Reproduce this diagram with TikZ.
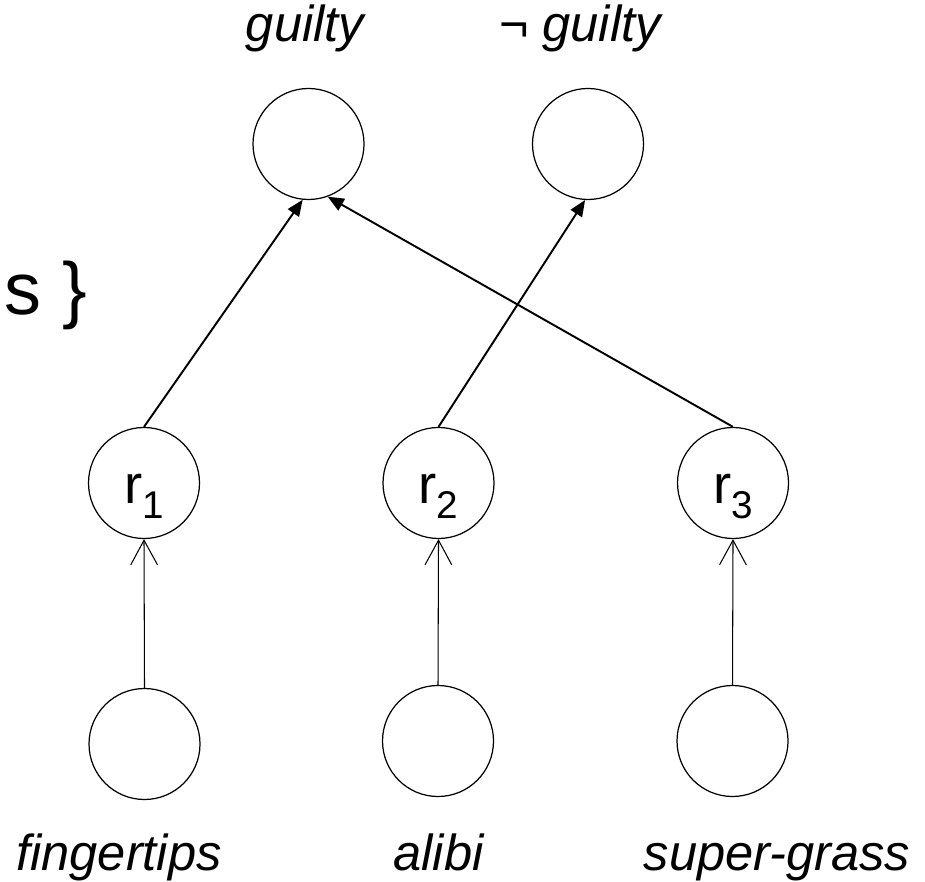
\documentclass[tikz,border=0pt]{standalone}
\usepackage{fontspec}
\setmainfont{Liberation Sans}
\usetikzlibrary{arrows.meta}

% rule label with lowered index
\newcommand{\rlab}[1]{r\raisebox{-4.3pt}{\fontsize{11}{13}\selectfont #1}}

\begin{document}
\begin{tikzpicture}[%
state/.style={draw, circle, line width=0.35pt, minimum size=1.11cm, inner sep=0pt,
  text height=11.4pt, text depth=0pt, font=\fontsize{15.5}{18}\selectfont},
lab/.style={anchor=base, inner sep=0pt, font=\fontsize{14.4}{17}\selectfont\itshape},
infer/.style={line width=0.55pt, -{Triangle[length=4.6pt,width=3.8pt]}},
support/.style={line width=0.3pt, -{Straight Barb[length=7pt,width=7.6pt]}},
]
\useasboundingbox (0,0) rectangle (9.25,8.81);
%% conclusions;
\node[state] (guilty) at (3.085,7.37) {};
\node[state] (notguilty) at (5.88,7.37) {};
\node[lab] (lguilty) at (3.05,8.39) {guilty};
\node[lab] (lnotguilty) at (5.80,8.39) {¬ guilty};
%% rules;
\node[state] (r1) at (1.44,3.98) {\rlab{1}};
\node[state] (r2) at (4.385,3.98) {\rlab{2}};
\node[state] (r3) at (7.33,3.98) {\rlab{3}};
%% premises;
\node[state] (finger) at (1.445,1.37) {};
\node[state] (alibi) at (4.38,1.40) {};
\node[state] (grass) at (7.325,1.40) {};
\node[lab] (lfinger) at (1.19,0.11) {fingertips};
\node[lab] (lalibi) at (4.385,0.11) {alibi};
\node[lab] (lgrass) at (7.77,0.11) {super-grass};
%% set brace;
\node[anchor=base west, inner sep=0pt, font=\fontsize{21}{25}\selectfont] (set) at (0.04,5.66) {s \}};
%% arrows;
\draw[support] (finger.north) -- (r1.south);
\draw[support] (alibi.north) -- (r2.south);
\draw[support] (grass.north) -- (r3.south);
\draw[infer] (r1.north) -- (guilty.264);
\draw[infer] (r2.north) -- (notguilty.267);
\draw[infer] (r3.north) -- (guilty.290);
\end{tikzpicture}
\end{document}
